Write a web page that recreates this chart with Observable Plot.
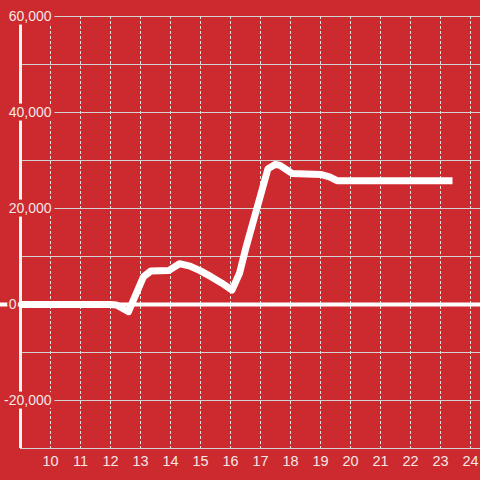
<!DOCTYPE html>
<html>
<head>
<meta charset="utf-8">
<script src="https://cdn.jsdelivr.net/npm/d3@7"></script>
<script src="https://cdn.jsdelivr.net/npm/@observablehq/plot@0.6"></script>
<style>
  html, body { margin: 0; padding: 0; background: #cc2a2e; }
  #chart { width: 480px; height: 480px; }
</style>
</head>
<body>
<div id="chart"></div>
<script>
// Data (hour of day, value)
const hours  = [9, 12.0, 12.2, 12.6, 13.1, 13.35, 13.95, 14.3, 14.65, 15.0, 15.35, 15.7, 16.05, 16.3, 16.5, 17.25, 17.5, 17.65, 18.05, 19.0, 19.3, 19.55, 23.4];
const values = [0, 0, -100, -1500, 5800, 7000, 7100, 8500, 8000, 7000, 5800, 4500, 3000, 6500, 11500, 28300, 29200, 29000, 27300, 27100, 26600, 25800, 25800];

const xTicks = [10, 11, 12, 13, 14, 15, 16, 17, 18, 19, 20, 21, 22, 23, 24];
const yGrid = [-30000, -20000, -10000, 0, 10000, 20000, 30000, 40000, 50000, 60000];
const yLabels = [-20000, 20000, 40000, 60000];
const zeroLabel = [0];

const data = hours.map((h, i) => ({hour: h, value: values[i]}));

const bg = "#cc2a2e";
const textColor = "#f5e6e6";
const fmt = d3.format(",");

const chart = Plot.plot({
  width: 480,
  height: 480,
  marginLeft: 20,
  marginRight: 0,
  marginTop: 16,
  marginBottom: 32,
  style: {background: bg, fontFamily: "'Liberation Sans', Arial, sans-serif", overflow: "visible"},
  x: {domain: [9, 9 + 460 / 30], axis: null},
  y: {domain: [-30000, 60000], axis: null},
  marks: [
    Plot.ruleY(yGrid, {stroke: "#d2d2d2", strokeWidth: 1}),
    Plot.ruleX(xTicks, {stroke: "#e2e2e2", strokeWidth: 1, strokeDasharray: "3,2"}),
    Plot.ruleY([0], {stroke: "#ffffff", strokeWidth: 4, insetLeft: -20}),
    Plot.ruleX([9], {stroke: "#f4f4f4", strokeWidth: 3}),
    Plot.line(data, {x: "hour", y: "value", stroke: "#ffffff", strokeWidth: 7, strokeLinejoin: "round", strokeLinecap: "butt"}),
    Plot.text(yLabels, {y: d => d, text: d => fmt(d).replace("−", "-"), frameAnchor: "left", textAnchor: "end", dx: 31, fontSize: 14, fill: textColor, stroke: bg, strokeWidth: 7}),
    Plot.text(zeroLabel, {y: d => d, text: d => String(d), frameAnchor: "left", textAnchor: "end", dx: -4, fontSize: 14, fill: textColor, stroke: bg, strokeWidth: 4}),
    Plot.text(xTicks, {x: d => d, text: d => String(d), frameAnchor: "bottom", lineAnchor: "top", dy: 7, fontSize: 14.5, fill: textColor})
  ]
});
document.getElementById("chart").appendChild(chart);
</script>
</body>
</html>
